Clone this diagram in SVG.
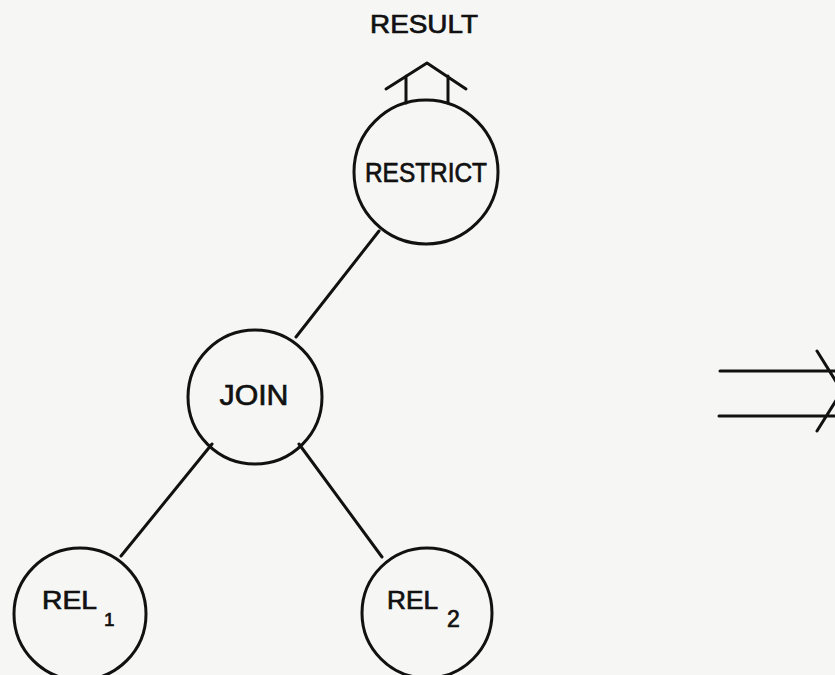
<svg xmlns="http://www.w3.org/2000/svg" width="835" height="675" viewBox="0 0 835 675">
<style>
.n{fill:none;stroke:#111;stroke-width:3}
.c{fill:none;stroke:#111;stroke-width:3;stroke-linecap:round;stroke-linejoin:round}
text{font-family:"Liberation Sans","DejaVu Sans",sans-serif;fill:#111;stroke:#111;stroke-width:0.7}
</style>
<rect width="835" height="675" fill="#f6f6f4"/>
<g id="result">
<text x="424" y="33" font-size="26" text-anchor="middle" textLength="108" lengthAdjust="spacingAndGlyphs">RESULT</text>
<path class="c" d="M386,89 L427,63 L466,89 M406,76 L406,103 M448,76 L448,103"/>
</g>
<g id="restrict">
<circle class="n" cx="426" cy="172" r="72"/>
<text x="426" y="182" font-size="27" text-anchor="middle" textLength="122" lengthAdjust="spacingAndGlyphs">RESTRICT</text>
</g>
<g id="join">
<circle class="n" cx="255" cy="397" r="67"/>
<text x="254" y="405" font-size="30" text-anchor="middle" textLength="69" lengthAdjust="spacingAndGlyphs">JOIN</text>
</g>
<g id="rel1">
<circle class="n" cx="80" cy="614" r="66"/>
<text x="42" y="609" font-size="25" textLength="55" lengthAdjust="spacingAndGlyphs">REL</text>
<text x="104" y="626" font-size="19">1</text>
</g>
<g id="rel2">
<circle class="n" cx="427" cy="613" r="65"/>
<text x="387" y="609" font-size="25" textLength="51" lengthAdjust="spacingAndGlyphs">REL</text>
<text x="447" y="627" font-size="23">2</text>
</g>
<g id="connectors">
<line class="c" x1="379" y1="231" x2="296" y2="337"/>
<line class="c" x1="212" y1="444" x2="121" y2="556"/>
<line class="c" x1="299" y1="444" x2="382" y2="557"/>
</g>
<g id="implies">
<path class="c" d="M720,371 L835,371 M719,416 L835,416 M817,351 L842,391 L817,431"/>
</g>
</svg>
